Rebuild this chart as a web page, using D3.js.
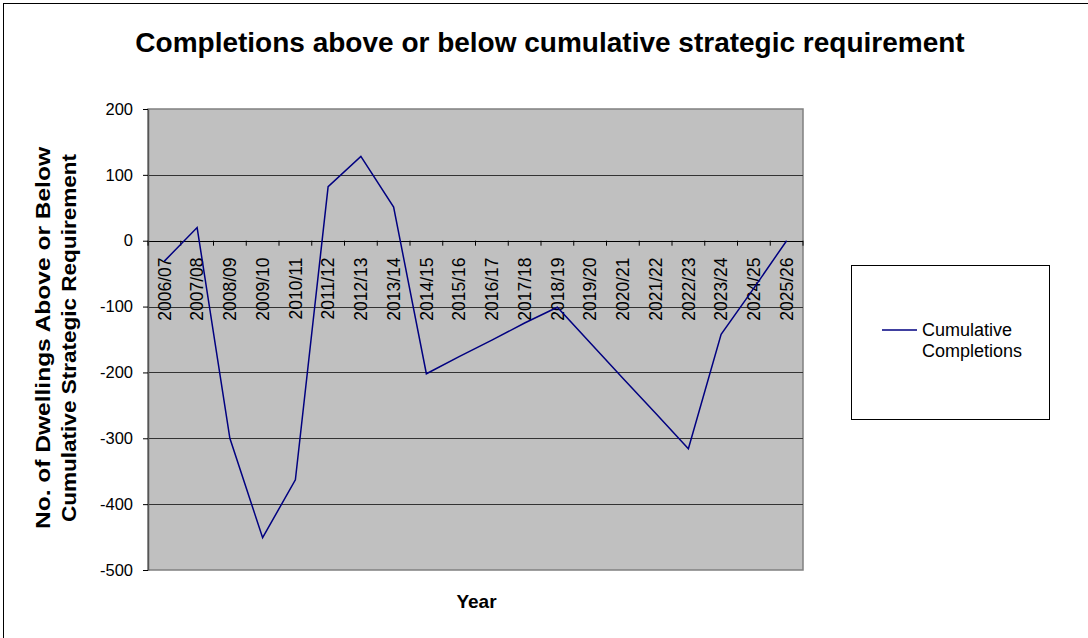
<!DOCTYPE html>
<html>
<head>
<meta charset="utf-8">
<script src="https://cdn.jsdelivr.net/npm/d3@7"></script>
<style>
  body { margin: 0; background: #fff; }
  svg { display: block; font-family: Arial, "Liberation Sans", sans-serif; }
</style>
</head>
<body>
<svg width="1088" height="638"></svg>
<script>
var years = ['2006/07','2007/08','2008/09','2009/10','2010/11','2011/12','2012/13','2013/14','2014/15','2015/16',
             '2016/17','2017/18','2018/19','2019/20','2020/21','2021/22','2022/23','2023/24','2024/25','2025/26'];
var cumulative = [-31, 20, -300, -451, -363, 82, 128, 51, -202, -176,
                  -151, -125, -101, -155, -209, -262, -316, -142, -72, 0];
var yTicks = [200, 100, 0, -100, -200, -300, -400, -500];

var svg = d3.select('svg');
var plotLeft = 148, plotTop = 109, plotRight = 803, plotBottom = 570;
var font = 'Arial, "Liberation Sans", sans-serif';

// outer chart border (only left and top edges are inside the picture)
svg.append('rect')
   .attr('x', 3.5).attr('y', 3.5)
   .attr('width', 1100).attr('height', 700)
   .attr('fill', 'none').attr('stroke', '#000').attr('stroke-width', 1);

var x = d3.scaleBand().domain(years).range([plotLeft, plotRight]).padding(0);
var y = d3.scaleLinear().domain([-500, 200]).range([plotBottom, plotTop]);

// plot area
svg.append('rect')
   .attr('x', plotLeft).attr('y', plotTop)
   .attr('width', plotRight - plotLeft).attr('height', plotBottom - plotTop)
   .attr('fill', '#c0c0c0').attr('stroke', '#808080').attr('stroke-width', 1.5);

// gridlines
svg.append('g').selectAll('line')
   .data(yTicks.filter(function(d){ return d !== 200 && d !== -500; }))
   .enter().append('line')
   .attr('x1', plotLeft).attr('x2', plotRight)
   .attr('y1', function(d){ return Math.round(y(d)) + 0.5; })
   .attr('y2', function(d){ return Math.round(y(d)) + 0.5; })
   .attr('stroke', function(d){ return d === 0 ? '#000' : '#333'; })
   .attr('stroke-width', 1);

// y axis
var yAxis = svg.append('g')
   .attr('transform', 'translate(' + plotLeft + ',0)')
   .call(d3.axisLeft(y).tickValues(yTicks).tickSize(5).tickSizeOuter(0)
           .tickFormat(function(d){ return String(d); }));
yAxis.select('.domain').attr('stroke', '#555').attr('stroke-width', 1.5);
yAxis.selectAll('.tick line').attr('stroke', '#000');
yAxis.selectAll('text').attr('font-size', 16.5).attr('fill', '#000')
     .attr('font-family', font).attr('x', -15);

// category axis on the zero line
var xAxis = svg.append('g')
   .attr('transform', 'translate(0,' + (Math.round(y(0)) + 0.5) + ')')
   .call(d3.axisBottom(x).tickSize(0));
xAxis.select('.domain').remove();
xAxis.selectAll('.tick line').remove();
xAxis.selectAll('.tick text')
   .attr('font-size', 17.5).attr('fill', '#000')
   .attr('font-family', font)
   .attr('text-anchor', 'end')
   .attr('transform', 'rotate(-90)')
   .attr('x', -16).attr('y', 0).attr('dy', '0.36em');
// category boundary ticks
svg.append('g').selectAll('line')
   .data(years.concat(['end']))
   .enter().append('line')
   .attr('x1', function(d, i){ return plotLeft + i * x.bandwidth(); })
   .attr('x2', function(d, i){ return plotLeft + i * x.bandwidth(); })
   .attr('y1', y(0)).attr('y2', y(0) + 5)
   .attr('stroke', '#000');

// the line
var line = d3.line()
   .x(function(d, i){ return x(years[i]) + x.bandwidth() / 2; })
   .y(function(d){ return y(d); });
svg.append('path')
   .datum(cumulative)
   .attr('d', line)
   .attr('fill', 'none')
   .attr('stroke', '#000080')
   .attr('stroke-width', 1.5);

// title
svg.append('text')
   .attr('x', 550).attr('y', 52)
   .attr('text-anchor', 'middle')
   .attr('font-size', 28).attr('font-weight', 'bold')
   .text('Completions above or below cumulative strategic requirement');

// x axis title
svg.append('text')
   .attr('x', 476.5).attr('y', 608)
   .attr('text-anchor', 'middle')
   .attr('font-size', 19).attr('font-weight', 'bold')
   .text('Year');

// y axis title
var yTitle = svg.append('text')
   .attr('transform', 'translate(49.5,338) rotate(-90)')
   .attr('text-anchor', 'middle')
   .attr('font-size', 20).attr('font-weight', 'bold');
yTitle.append('tspan').attr('x', 0).attr('y', 0)
   .attr('textLength', 382).attr('lengthAdjust', 'spacingAndGlyphs')
   .text('No. of Dwellings Above or Below');
yTitle.append('tspan').attr('x', 0).attr('y', 26.5)
   .attr('textLength', 368).attr('lengthAdjust', 'spacingAndGlyphs')
   .text('Cumulative Strategic Requirement');

// legend
var legend = svg.append('g');
legend.append('rect')
   .attr('x', 851.5).attr('y', 265.5).attr('width', 198).attr('height', 154)
   .attr('fill', '#fff').attr('stroke', '#000');
legend.append('line')
   .attr('x1', 882).attr('x2', 917).attr('y1', 330).attr('y2', 330)
   .attr('stroke', '#000080').attr('stroke-width', 1.5);
legend.append('text')
   .attr('x', 922).attr('y', 336)
   .attr('font-size', 18)
   .text('Cumulative');
legend.append('text')
   .attr('x', 922).attr('y', 357)
   .attr('font-size', 18)
   .text('Completions');
</script>
</body>
</html>
